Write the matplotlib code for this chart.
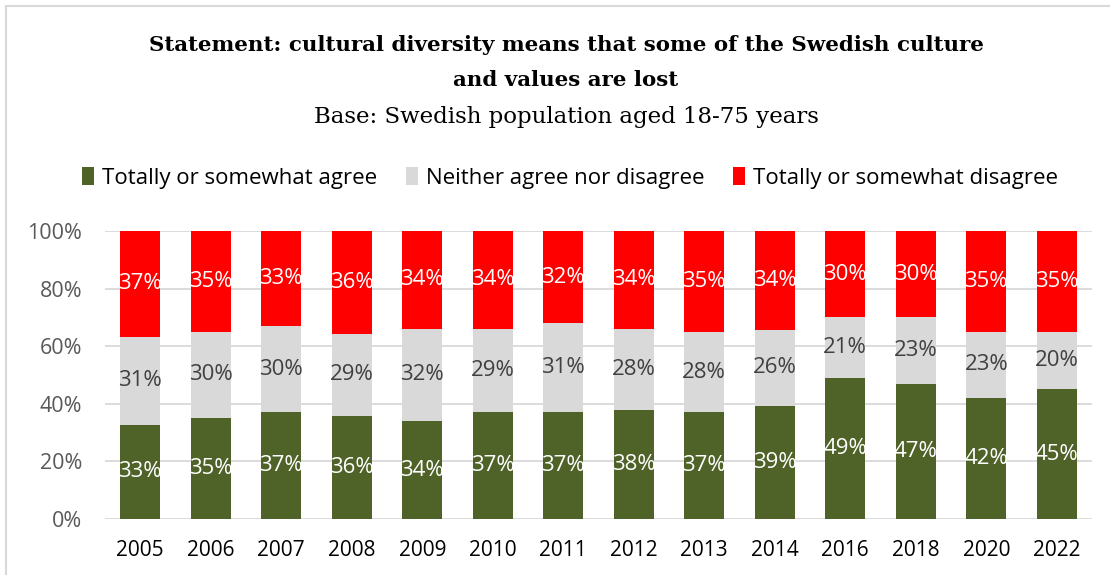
import matplotlib
matplotlib.use("Agg")
import matplotlib.pyplot as plt
import numpy as np
from matplotlib.patches import Rectangle

years = ["2005", "2006", "2007", "2008", "2009", "2010", "2011", "2012",
         "2013", "2014", "2016", "2018", "2020", "2022"]
agree = [33, 35, 37, 36, 34, 37, 37, 38, 37, 39, 49, 47, 42, 45]
neither = [31, 30, 30, 29, 32, 29, 31, 28, 28, 26, 21, 23, 23, 20]
disagree = [37, 35, 33, 36, 34, 34, 32, 34, 35, 34, 30, 30, 35, 35]
series_names = ["Totally or somewhat agree", "Neither agree nor disagree",
                "Totally or somewhat disagree"]
colors = ["#4f6228", "#d9d9d9", "#ff0000"]
label_colors = ["white", "#404040", "white"]

W, H = 1110, 575
fig = plt.figure(figsize=(W / 100, H / 100), dpi=100)

# thin frame around the chart
fig.patches.append(Rectangle((6 / W, -0.01), 1.1, 1.0 - 6 / H + 0.01,
                             transform=fig.transFigure, fill=False,
                             edgecolor="#d9d9d9", linewidth=1.5))

ax = fig.add_axes([105 / W, (H - 519) / H, (1092 - 105) / W, (519 - 231) / H])

data = np.array([agree, neither, disagree], dtype=float)
totals = data.sum(axis=0)
shares = data / totals * 100
x = np.arange(len(years))
bottom = np.zeros(len(years))
for i in range(3):
    ax.bar(x, shares[i], 0.57, bottom=bottom, color=colors[i],
           label=series_names[i], zorder=2)
    for xi, b, h, v in zip(x, bottom, shares[i], data[i]):
        ax.text(xi, b + h / 2, f"{int(v)}%", ha="center", va="center",
                color=label_colors[i], fontsize=16, family="Open Sans",
                zorder=3)
    bottom += shares[i]

ax.set_xlim(-0.5, len(years) - 0.5)
ax.set_ylim(0, 100)
ax.set_yticks(np.arange(0, 101, 20))
ax.set_yticklabels([f"{t}%" for t in range(0, 101, 20)])
ax.set_xticks(x)
ax.set_xticklabels(years)
ax.tick_params(axis="y", length=0, pad=16.5, labelsize=15.5, labelcolor="#595959")
ax.tick_params(axis="x", length=0, pad=15, labelsize=15, labelcolor="black")
for lab in ax.get_xticklabels() + ax.get_yticklabels():
    lab.set_family("Open Sans")
ax.grid(axis="y", color="#d9d9d9", linewidth=1.3, zorder=0)
ax.set_axisbelow(True)
for s in ax.spines.values():
    s.set_visible(False)

cx = 566 / W
title_font = dict(family="DejaVu Serif", fontsize=15.4, fontweight="bold")
fig.text(cx, 1 - 45 / H,
         "Statement: cultural diversity means that some of the Swedish culture",
         ha="center", va="center", **title_font)
fig.text(cx, 1 - 80 / H, "and values are lost", ha="center", va="center",
         **title_font)
fig.text(cx, 1 - 117 / H, "Base: Swedish population aged 18-75 years",
         ha="center", va="center", fontsize=16.5, family="DejaVu Serif")

fig.legend(loc="center", bbox_to_anchor=(570 / W, 1 - 178 / H), ncol=3,
           frameon=False, prop={"family": "Open Sans", "size": 16},
           handlelength=0.55, handleheight=0.9, handletextpad=0.35,
           columnspacing=1.3)

fig.savefig("out.png", dpi=100)
